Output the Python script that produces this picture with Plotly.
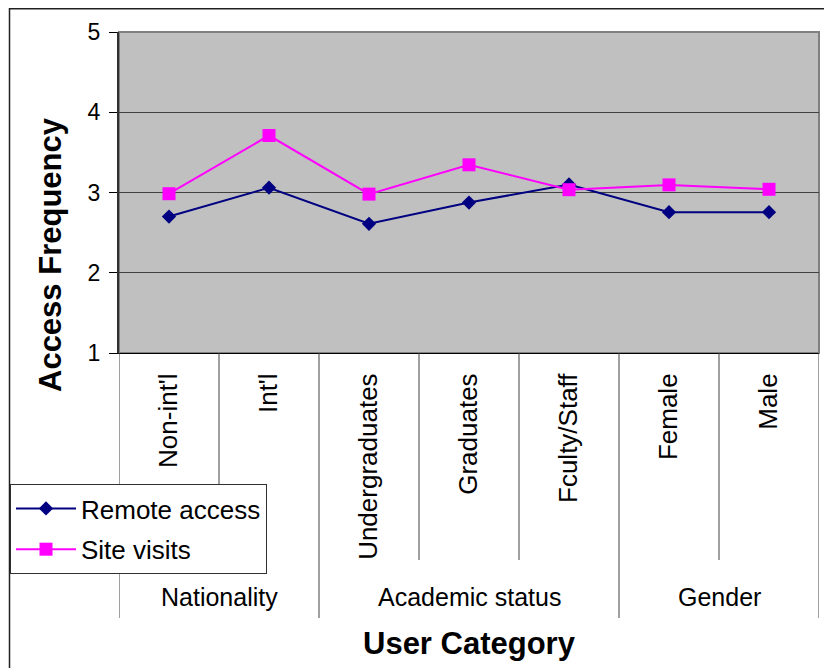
import plotly.graph_objects as go

categories = ["Non-int'l", "Int'l", "Undergraduates", "Graduates", "Fculty/Staff", "Female", "Male"]
groups = ["Nationality", "Academic status", "Gender"]
group_sizes = [2, 3, 2]
remote_access = [2.70, 3.06, 2.61, 2.875, 3.10, 2.755, 2.755]
site_visits = [2.985, 3.71, 2.98, 3.345, 3.035, 3.095, 3.04]
y_ticks = [1, 2, 3, 4, 5]

# page is rendered with an 8px body margin; work in page coordinates
OFF = 8
W, H = 832 - OFF, 668 - OFF
PL, PR, PT, PB = 119, 819, 32, 353   # plot area in page pixels
L, R, T, B = PL - OFF, W - (PR - OFF), PT - OFF, H - (PB - OFF)
PW, PH = W - L - R, H - T - B

def py(pix):
    return (PB - pix) / PH

def px(pix):
    return (pix - PL) / PW

FONT = "Liberation Sans, Arial, sans-serif"

fig = go.Figure()
fig.add_trace(go.Scatter(
    x=categories, y=remote_access, name="Remote access", mode="lines+markers",
    line=dict(color="#000080", width=2),
    marker=dict(symbol="diamond", size=11, color="#000080"),
    legendgroup="a"))
fig.add_trace(go.Scatter(
    x=categories, y=site_visits, name="Site visits", mode="lines+markers",
    line=dict(color="#FF00FF", width=2),
    marker=dict(symbol="square", size=13, color="#FF00FF"),
    legendgroup="b"))

shapes = []
shapes.append(dict(type="rect", xref="paper", yref="paper", x0=0, x1=1, y0=0, y1=1,
                   line=dict(color="#808080", width=2), layer="below"))
n = len(categories)
group_bounds = [-0.5]
acc = -0.5
for s in group_sizes:
    acc += s
    group_bounds.append(acc)
inner_bounds = [b + 0.5 for b in range(n - 1) if (b + 0.5) not in group_bounds]
for b in inner_bounds:
    shapes.append(dict(type="line", xref="x", yref="paper", x0=b, x1=b, y0=0, y1=py(560),
                       line=dict(color="#404040", width=1)))
for b in group_bounds:
    shapes.append(dict(type="line", xref="x", yref="paper", x0=b, x1=b, y0=0, y1=py(618),
                       line=dict(color="#404040", width=1)))
# outer frame (top and left)
shapes.append(dict(type="line", xref="paper", yref="paper", x0=px(9), x1=px(840), y0=py(8.8), y1=py(8.8),
                   line=dict(color="#202020", width=1.5)))
shapes.append(dict(type="line", xref="paper", yref="paper", x0=px(9.5), x1=px(9.5), y0=py(8), y1=py(690),
                   line=dict(color="#202020", width=1.5)))

annotations = []
start = 0
for g, s in zip(groups, group_sizes):
    center = start + (s - 1) / 2
    annotations.append(dict(text=g, x=center, xref="x", y=py(597), yref="paper",
                            showarrow=False, font=dict(family=FONT, size=25, color="black"),
                            xanchor="center", yanchor="middle"))
    start += s
annotations.append(dict(text="<b>User Category</b>", x=0.5, xref="paper", y=py(643), yref="paper",
                        showarrow=False, font=dict(family=FONT, size=31, color="black"),
                        xanchor="center", yanchor="middle"))
annotations.append(dict(text="<b>Access Frequency</b>", x=px(50), xref="paper", y=py(255), yref="paper",
                        showarrow=False, textangle=-90, font=dict(family=FONT, size=31, color="black"),
                        xanchor="center", yanchor="middle"))

fig.update_layout(
    width=W, height=H,
    margin=dict(l=L, r=R, t=T, b=B, autoexpand=False),
    paper_bgcolor="white", plot_bgcolor="#C0C0C0",
    font=dict(family=FONT, color="black"),
    shapes=shapes, annotations=annotations,
    legend=dict(xref="container", yref="container", x=(10 - OFF) / W, y=1 - (484 - OFF) / H,
                xanchor="left", yanchor="top", bgcolor="white", bordercolor="#303030",
                borderwidth=1, font=dict(family=FONT, size=26, color="black"),
                tracegroupgap=4, itemwidth=60),
    xaxis=dict(type="category", range=[-0.5, n - 0.5], showgrid=False, zeroline=False,
               showline=True, linecolor="black", linewidth=1, ticks="",
               tickangle=-90, tickfont=dict(family=FONT, size=26, color="black"),
               ticklabelstandoff=9),
    yaxis=dict(range=[1, 5], tickvals=y_ticks, showgrid=True, gridcolor="#404040", gridwidth=1,
               zeroline=False, showline=True, linecolor="#303030", linewidth=2,
               ticks="outside", ticklen=8, tickcolor="black", tickwidth=1,
               tickfont=dict(family=FONT, size=23, color="black"), ticklabelstandoff=4),
    showlegend=True,
)

fig.write_html("out.html")
